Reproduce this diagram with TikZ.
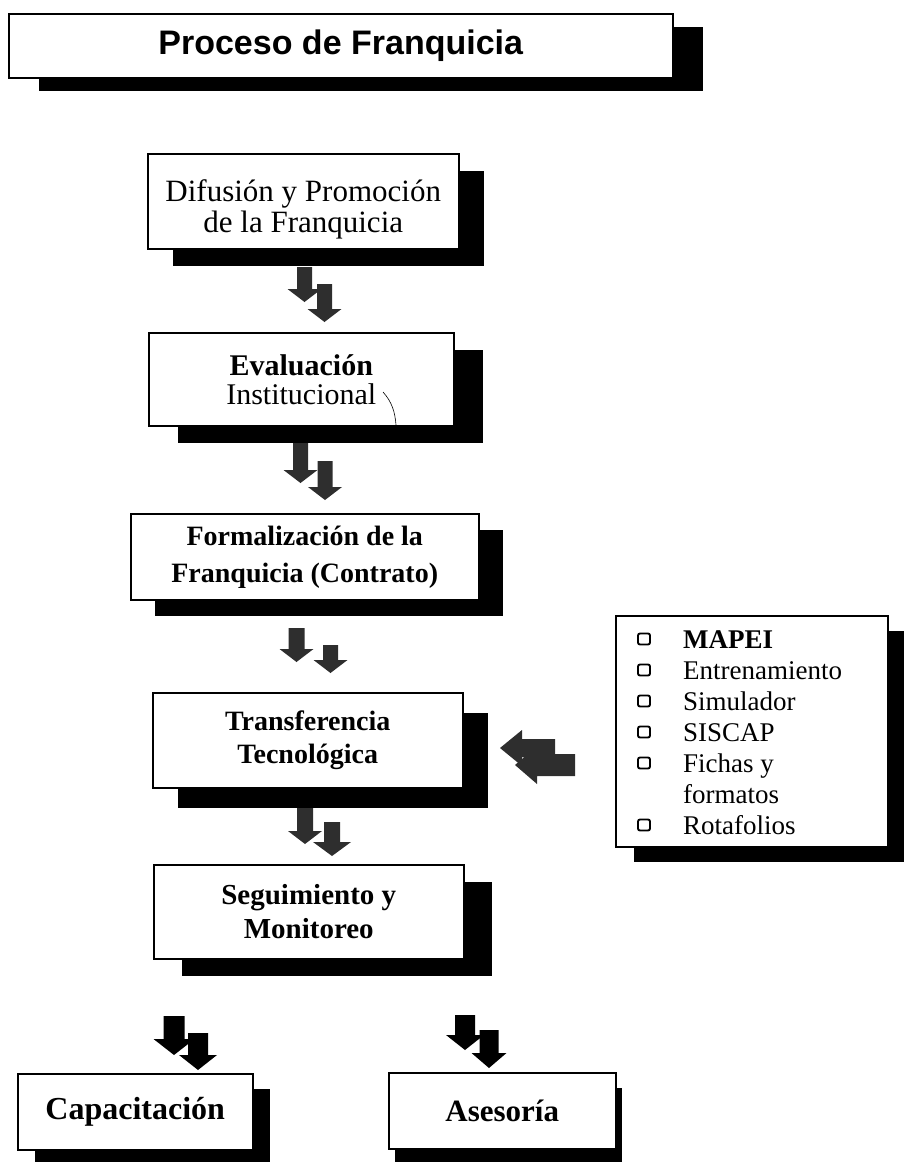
\documentclass[tikz,border=0pt]{standalone}
\usepackage{fontspec}
\setmainfont{Liberation Serif}
\newfontfamily\headfont{Liberation Sans}
\usetikzlibrary{shadows}
\begin{document}
\begin{tikzpicture}[x=1pt,y=-1pt,
  % box with a solid black offset shadow: width, height, shadow dx, shadow dy
  stepbox/.style n args={4}{draw=black, line width=1.5pt, fill=white,
    anchor=north west, minimum width=#1pt, minimum height=#2pt,
    inner sep=0pt, align=center,
    drop shadow={shadow xshift=#3pt, shadow yshift=-#4pt, opacity=1, fill=black}},
  itemtext/.style={anchor=base west, inner sep=0pt,
    font=\fontsize{27}{31}\selectfont},
  bulletbox/.style={draw=black, line width=1.9pt, rounded corners=2pt,
    minimum width=12pt, minimum height=11pt, inner sep=0pt},
  % downward block arrow: stem width, head width, head length, total length, colour
  pics/dblock/.style n args={5}{code={
    \fill[#5] (-#1/2,0) -- (#1/2,0) -- (#1/2,#4-#3) -- (#2/2,#4-#3) -- (0,#4)
      -- (-#2/2,#4-#3) -- (-#1/2,#4-#3) -- cycle;}},
  % leftward block arrow, placed at the middle of its tail
  pics/lblock/.style n args={5}{code={
    \fill[#5] (0,-#1/2) -- (-#4+#3,-#1/2) -- (-#4+#3,-#2/2) -- (-#4,0)
      -- (-#4+#3,#2/2) -- (-#4+#3,#1/2) -- (0,#1/2) -- cycle;}}
]
\useasboundingbox (0,0) rectangle (903,1162);

% title
\node[stepbox={664}{64}{30}{13}, font=\headfont\bfseries\fontsize{34}{38}\selectfont]
  (title) at (8,13) {Proceso de Franquicia};

% main column
\node[stepbox={311}{95}{25}{17}, font=\fontsize{31}{31}\selectfont]
  (dif) at (147,153) {\rule{0pt}{38pt}Difusión y Promoción\\de la Franquicia};
\node[stepbox={305}{93}{29}{17}, font=\fontsize{30}{29}\selectfont]
  (eva) at (148,332) {\textbf{Evaluación}\\Institucional};
\node[stepbox={348}{86}{24}{16}, font=\bfseries\fontsize{28}{37}\selectfont]
  (for) at (130,513) {Formalización de la\\Franquicia (Contrato)};
\node[stepbox={310}{95}{25}{20}, font=\bfseries\fontsize{28}{33}\selectfont]
  (tra) at (152,692) {Transferencia\\Tecnológica};
\node[stepbox={310}{94}{28}{17}, font=\bfseries\fontsize{29}{34}\selectfont]
  (seg) at (153,864) {Seguimiento y\\Monitoreo};

% final branches
\node[stepbox={235}{76}{17}{15}, font=\bfseries\fontsize{32}{36}\selectfont]
  (cap) at (17,1073) {Capacitación};
\node[stepbox={227}{76}{6}{15}, font=\bfseries\fontsize{31}{36}\selectfont]
  (ase) at (388,1072) {Asesoría};

% list of tools
\node[stepbox={272}{231}{18}{15}] (tools) at (615,615) {};
\node[bulletbox] (b1) at (644,639) {};
\node[bulletbox] (b2) at (644,670) {};
\node[bulletbox] (b3) at (644,701) {};
\node[bulletbox] (b4) at (644,732) {};
\node[bulletbox] (b5) at (644,763) {};
\node[bulletbox] (b6) at (644,825) {};
\node[itemtext] (t1) at (683,648) {\textbf{MAPEI}};
\node[itemtext] (t2) at (683,679) {Entrenamiento};
\node[itemtext] (t3) at (683,710) {Simulador};
\node[itemtext] (t4) at (683,741) {SISCAP};
\node[itemtext] (t5) at (683,772) {Fichas y};
\node[itemtext] (t5b) at (683,803) {formatos};
\node[itemtext] (t6) at (683,834) {Rotafolios};

% stroke across the Evaluación box
\draw[line width=0.6pt] (383,392) .. controls (392,402) and (395,412) .. (396,425);

% paired block arrows between the steps
\pic at (304.5,267) {dblock={15}{34}{13}{35}{black!82}};
\pic at (324.5,284) {dblock={15}{34}{13}{38}{black!82}};
\pic at (300.5,443) {dblock={15}{34}{13}{40}{black!82}};
\pic at (325,461) {dblock={15}{34}{13}{39}{black!82}};
\pic at (296.5,628) {dblock={16}{34}{13}{34}{black!82}};
\pic at (330.5,645) {dblock={15}{34}{13}{28}{black!82}};
\pic at (305,808) {dblock={16}{34}{13}{36}{black!82}};
\pic at (332,822) {dblock={16}{38}{14}{34}{black!82}};

\pic at (174,1016) {dblock={21}{41}{16}{39}{black}};
\pic at (198,1033) {dblock={20}{38}{15}{37}{black}};
\pic at (465,1015) {dblock={20}{38}{15}{35}{black}};
\pic at (489,1030) {dblock={19}{35}{15}{38}{black}};

% tools feed the technology transfer
\pic at (555,748) {lblock={18}{36}{22}{55}{black!82}};
\pic at (575,765) {lblock={22}{38}{22}{60}{black!82}};
\end{tikzpicture}
\end{document}
